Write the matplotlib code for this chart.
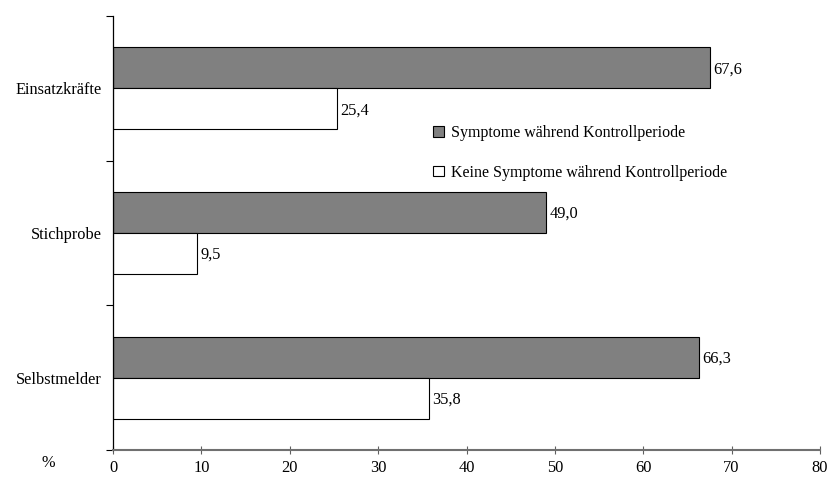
import matplotlib
matplotlib.use('Agg')
import numpy as np
import matplotlib.pyplot as plt
from matplotlib.ticker import FixedLocator, NullFormatter

plt.rcParams['font.family'] = ['Liberation Serif', 'DejaVu Serif']

categories = ['Einsatzkräfte', 'Stichprobe', 'Selbstmelder']
symptome = [67.6, 49.0, 66.3]
keine = [25.4, 9.5, 35.8]
labels = ['Symptome während Kontrollperiode', 'Keine Symptome während Kontrollperiode']
xticks = [0, 10, 20, 30, 40, 50, 60, 70, 80]

fs = 11.8

fig = plt.figure(figsize=(8.31, 4.79), dpi=100)
ax = fig.add_axes([113/831, 1 - 450/479, 707/831, 434/479])

y = np.arange(len(categories))
h = 0.283
b1 = ax.barh(y - h/2, symptome, height=h, color='#808080', edgecolor='black', lw=0.8,
             label=labels[0])
b2 = ax.barh(y + h/2, keine, height=h, color='white', edgecolor='black', lw=0.8,
             label=labels[1])

def fmt(v):
    return ('%.1f' % v).replace('.', ',')

for bars, vals in ((b1, symptome), (b2, keine)):
    for bar, v in zip(bars, vals):
        ax.text(v + 0.35, bar.get_y() + bar.get_height()/2 + 0.01, fmt(v),
                va='center', ha='left', fontsize=fs)

ax.set_xlim(0, 80)
ax.set_ylim(2.5, -0.5)
ax.set_xticks(xticks)
ax.set_xticklabels([str(t) for t in xticks], fontsize=fs)
ax.tick_params(axis='x', direction='inout', length=6, color='#606060', pad=4)

ax.yaxis.set_major_locator(FixedLocator([-0.5, 0.5, 1.5, 2.5]))
ax.yaxis.set_major_formatter(NullFormatter())
ax.yaxis.set_minor_locator(FixedLocator(list(y)))
ax.set_yticklabels(categories, minor=True, fontsize=fs)
ax.tick_params(axis='y', which='major', direction='out', length=5)
ax.tick_params(axis='y', which='minor', length=0, pad=8)

for s in ('top', 'right'):
    ax.spines[s].set_visible(False)
ax.spines['bottom'].set_color('#707070')
ax.spines['bottom'].set_linewidth(1.5)
ax.spines['left'].set_linewidth(0.9)

fig.text(48/831, 1 - 463/479, '%', fontsize=fs, ha='center', va='center')

leg = fig.legend(loc='upper left', bbox_to_anchor=(419/831, 1 - 111/479), frameon=False,
                 fontsize=11.5, handlelength=0.65, handleheight=0.65, handletextpad=0.45,
                 labelspacing=1.45)

fig.savefig('out.png', dpi=100)
